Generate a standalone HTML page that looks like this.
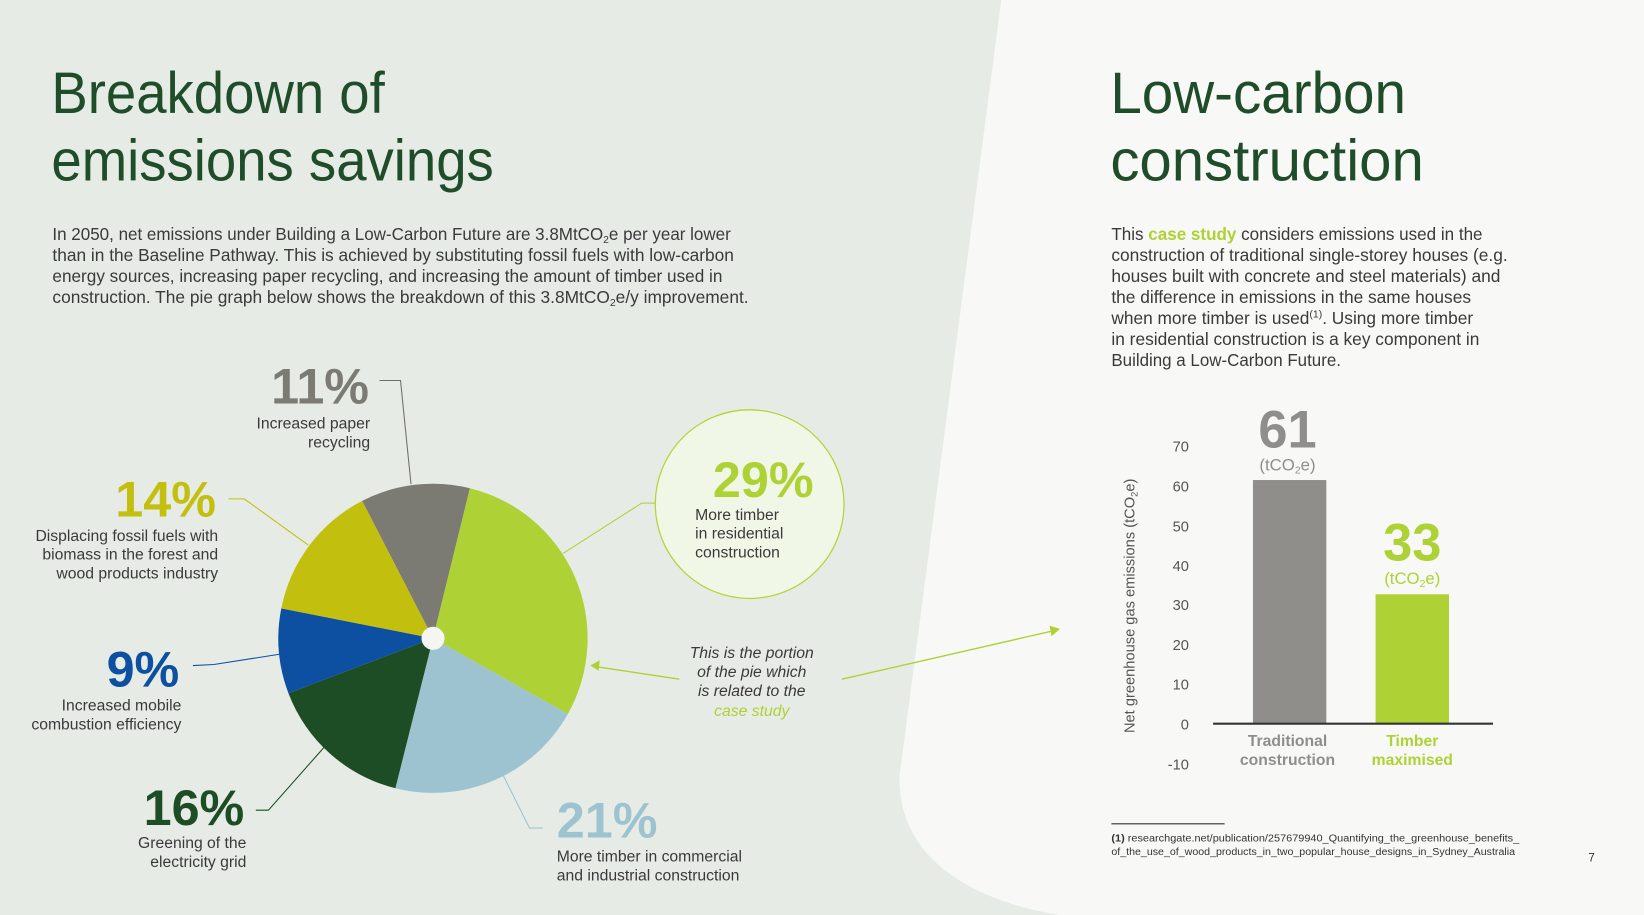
<!DOCTYPE html>
<html><head><meta charset="utf-8"><style>
html,body{margin:0;padding:0;width:1644px;height:915px;overflow:hidden;background:#e6ebe5}
svg{display:block}
text{font-family:"Liberation Sans",sans-serif}
</style></head><body>
<svg width="1644" height="915" viewBox="0 0 1568 873" preserveAspectRatio="none" xmlns="http://www.w3.org/2000/svg">
<rect width="1568" height="873" fill="#e6ebe5"/>
<path d="M955,0 L1568,0 L1568,873 L1010,873 C905,855 856,805 858,740 Z" fill="#f8f8f6"/>

<!-- Left titles -->
<g fill="#1f4d2a" font-size="56">
<text x="49" y="108" textLength="318" lengthAdjust="spacingAndGlyphs">Breakdown of</text>
<text x="49" y="172" textLength="422" lengthAdjust="spacingAndGlyphs">emissions savings</text>
</g>
<g fill="#3a3a3a" font-size="16.5">
<text x="50" y="229" textLength="647" lengthAdjust="spacingAndGlyphs">In 2050, net emissions under Building a Low-Carbon Future are 3.8MtCO<tspan font-size="10" dy="3">2</tspan><tspan dy="-3">e per year lower</tspan></text>
<text x="50" y="249" textLength="650" lengthAdjust="spacingAndGlyphs">than in the Baseline Pathway. This is achieved by substituting fossil fuels with low-carbon</text>
<text x="50" y="269" textLength="639" lengthAdjust="spacingAndGlyphs">energy sources, increasing paper recycling, and increasing the amount of timber used in</text>
<text x="50" y="289" textLength="664" lengthAdjust="spacingAndGlyphs">construction. The pie graph below shows the breakdown of this 3.8MtCO<tspan font-size="10" dy="3">2</tspan><tspan dy="-3">e/y improvement.</tspan></text>
</g>

<!-- leader lines -->
<g fill="none" stroke-width="1">
<polyline points="362,363 382,363 392,462" stroke="#6f6f6a"/>
<polyline points="218,476 233,476 294,520" stroke="#c3bf0f"/>
<polyline points="184,635 204,634 268,624" stroke="#0d4fa0"/>
<polyline points="244,773 256,773 310,712" stroke="#1d4d25"/>
<polyline points="518,790 505,790 480,740" stroke="#9dc3d1"/>
<polyline points="537,528 612,480 625,480" stroke="#aed135"/>
</g>

<!-- pie -->
<g>
<path d="M413,609 L345.4,477.9 A147.5,147.5 0 0 1 448.2,465.8 Z" fill="#7b7b74"/>
<path d="M413,609 L448.2,465.8 A147.5,147.5 0 0 1 541.6,681.2 Z" fill="#aed135"/>
<path d="M413,609 L541.6,681.2 A147.5,147.5 0 0 1 377.1,752.1 Z" fill="#9dc3d1"/>
<path d="M413,609 L377.1,752.1 A147.5,147.5 0 0 1 275.1,661.4 Z" fill="#1d4d25"/>
<path d="M413,609 L275.1,661.4 A147.5,147.5 0 0 1 268.3,580.4 Z" fill="#0d4fa0"/>
<path d="M413,609 L268.3,580.4 A147.5,147.5 0 0 1 345.4,477.9 Z" fill="#c3bf0f"/>
<circle cx="413" cy="609" r="11" fill="#f4f6f2"/>
</g>

<!-- pie labels -->
<g font-weight="bold" font-size="48" text-anchor="end">
<text x="352" y="385" fill="#7b7b74">11%</text>
<text x="206" y="493" fill="#c3bf0f">14%</text>
<text x="171" y="655" fill="#0d4fa0">9%</text>
<text x="233" y="787" fill="#1d4d25">16%</text>
</g>
<text x="531" y="799" font-weight="bold" font-size="48" fill="#9dc3d1">21%</text>
<g fill="#3a3a3a" font-size="15" text-anchor="end">
<text x="353" y="409">Increased paper</text>
<text x="353" y="427">recycling</text>
<text x="208" y="516">Displacing fossil fuels with</text>
<text x="208" y="534">biomass in the forest and</text>
<text x="208" y="552">wood products industry</text>
<text x="173" y="678">Increased mobile</text>
<text x="173" y="696">combustion efficiency</text>
<text x="235" y="809">Greening of the</text>
<text x="235" y="827">electricity grid</text>
</g>
<g fill="#3a3a3a" font-size="15">
<text x="531" y="822">More timber in commercial</text>
<text x="531" y="840">and industrial construction</text>
</g>

<!-- circle -->
<circle cx="715" cy="481" r="90" fill="#f1f7e6" stroke="#b5d33a" stroke-width="1.2"/>
<text x="776" y="474" text-anchor="end" font-weight="bold" font-size="48" fill="#aed135">29%</text>
<g fill="#3a3a3a" font-size="15">
<text x="663" y="496">More timber</text>
<text x="663" y="514">in residential</text>
<text x="663" y="532">construction</text>
</g>

<!-- italic note -->
<g font-style="italic" font-size="15" fill="#3a3a3a" text-anchor="middle">
<text x="717" y="628">This is the portion</text>
<text x="717" y="646">of the pie which</text>
<text x="717" y="664">is related to the</text>
<text x="717" y="683" fill="#aed135">case study</text>
</g>
<g stroke="#aed135" stroke-width="1.3" fill="none">
<line x1="648" y1="648" x2="568" y2="636"/>
<line x1="803" y1="648" x2="1004" y2="602"/>
</g>
<polygon points="563,635 572,630 571,640" fill="#aed135"/>
<polygon points="1011,600 1001,597 1003,607" fill="#aed135"/>

<!-- right titles -->
<g fill="#1f4d2a" font-size="56">
<text x="1059" y="108" textLength="282" lengthAdjust="spacingAndGlyphs">Low-carbon</text>
<text x="1059" y="172" textLength="299" lengthAdjust="spacingAndGlyphs">construction</text>
</g>
<g fill="#3a3a3a" font-size="16.5">
<text x="1060" y="229" textLength="354" lengthAdjust="spacingAndGlyphs">This <tspan fill="#aed135" font-weight="bold">case study</tspan> considers emissions used in the</text>
<text x="1060" y="249" textLength="378" lengthAdjust="spacingAndGlyphs">construction of traditional single-storey houses (e.g.</text>
<text x="1060" y="269" textLength="371" lengthAdjust="spacingAndGlyphs">houses built with concrete and steel materials) and</text>
<text x="1060" y="289" textLength="343" lengthAdjust="spacingAndGlyphs">the difference in emissions in the same houses</text>
<text x="1060" y="309" textLength="345" lengthAdjust="spacingAndGlyphs">when more timber is used<tspan font-size="10" dy="-6">(1)</tspan><tspan dy="6">. Using more timber</tspan></text>
<text x="1060" y="329" textLength="351" lengthAdjust="spacingAndGlyphs">in residential construction is a key component in</text>
<text x="1060" y="349" textLength="219" lengthAdjust="spacingAndGlyphs">Building a Low-Carbon Future.</text>
</g>

<!-- bar chart -->
<g fill="#555" font-size="14" text-anchor="end">
<text x="1134" y="431">70</text>
<text x="1134" y="469">60</text>
<text x="1134" y="507">50</text>
<text x="1134" y="545">40</text>
<text x="1134" y="582">30</text>
<text x="1134" y="620">20</text>
<text x="1134" y="658">10</text>
<text x="1134" y="696">0</text>
<text x="1134" y="734">-10</text>
</g>
<text transform="translate(1082,578) rotate(-90)" text-anchor="middle" font-size="14" fill="#555">Net greenhouse gas emissions (tCO<tspan font-size="9" dy="3">2</tspan><tspan dy="-3">e)</tspan></text>
<rect x="1195" y="458" width="70" height="232" fill="#8f8e8a"/>
<rect x="1312" y="567" width="70" height="123" fill="#aed135"/>
<line x1="1157" y1="690.5" x2="1424" y2="690.5" stroke="#333" stroke-width="2"/>
<text x="1228" y="427" text-anchor="middle" font-weight="bold" font-size="50" fill="#8f8e8a">61</text>
<text x="1228" y="449" text-anchor="middle" font-size="16" fill="#8f8e8a">(tCO<tspan font-size="10" dy="3">2</tspan><tspan dy="-3">e)</tspan></text>
<text x="1347" y="535" text-anchor="middle" font-weight="bold" font-size="50" fill="#aed135">33</text>
<text x="1347" y="557" text-anchor="middle" font-size="16" fill="#aed135">(tCO<tspan font-size="10" dy="3">2</tspan><tspan dy="-3">e)</tspan></text>
<g font-size="15" font-weight="bold" text-anchor="middle">
<text x="1228" y="712" fill="#8f8e8a">Traditional</text>
<text x="1228" y="730" fill="#8f8e8a">construction</text>
<text x="1347" y="712" fill="#aed135">Timber</text>
<text x="1347" y="730" fill="#aed135">maximised</text>
</g>

<!-- footnote -->
<line x1="1060" y1="786" x2="1168" y2="786" stroke="#333" stroke-width="1"/>
<g font-size="10" fill="#333">
<text x="1060" y="803" textLength="389" lengthAdjust="spacingAndGlyphs"><tspan font-weight="bold">(1)</tspan> researchgate.net/publication/257679940_Quantifying_the_greenhouse_benefits_</text>
<text x="1060" y="816" textLength="385" lengthAdjust="spacingAndGlyphs">of_the_use_of_wood_products_in_two_popular_house_designs_in_Sydney_Australia</text>
</g>
<text x="1515" y="822" font-size="11" fill="#333">7</text>
</svg>
</body></html>
